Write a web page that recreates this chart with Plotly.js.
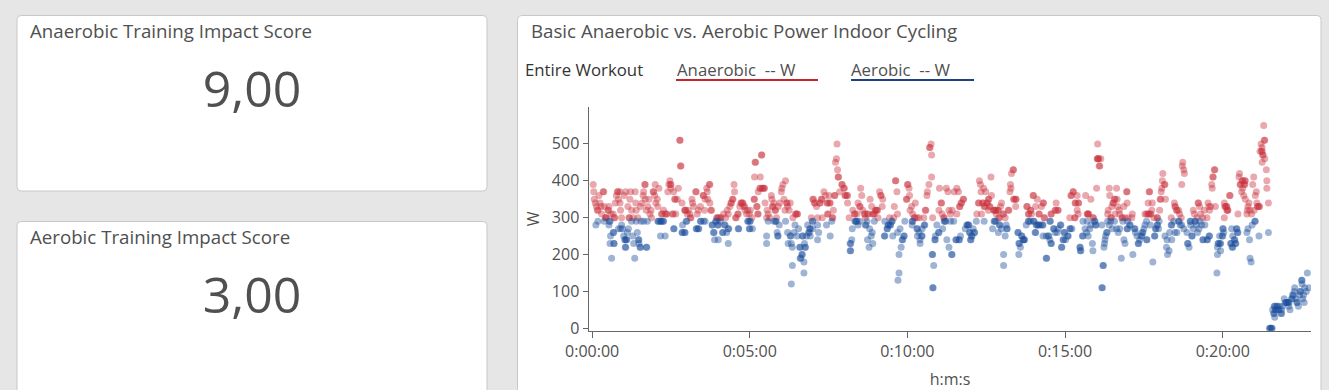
<!DOCTYPE html>
<html>
<head>
<meta charset="utf-8">
<script src="https://cdn.plot.ly/plotly-3.0.1.min.js"></script>
<style>
html,body{margin:0;padding:0;background:#e6e6e6;}
#chart{width:1329px;height:390px;}
</style>
</head>
<body>
<div id="chart"></div>
<script>
// ---- Data ----
const kpiTitles = ["Anaerobic Training Impact Score", "Aerobic Training Impact Score"];
const kpiValues = [9, 3];
const chartTitle = "Basic Anaerobic vs. Aerobic Power Indoor Cycling";
const filterLabel = "Entire Workout";
const seriesNames = ["Anaerobic\u00a0\u00a0-- W", "Aerobic\u00a0\u00a0-- W"];
const xTickSeconds = [0, 300, 600, 900, 1200];
const xTickLabels = ["0:00:00", "0:05:00", "0:10:00", "0:15:00", "0:20:00"];
const yTickValues = [0, 100, 200, 300, 400, 500];

// [seconds, watts]
const anaerobicSamples = [
[2,390],[3,370],[4,350],[6,340],[8,330],[10,320],[11,320],[13,360],[15,340],[17,330],[18,310],[21,370],[22,370],[23,330],[25,300],[26,300],[27,300],[30,320],[31,320],[32,330],[36,310],[40,310],[42,300],[43,300],[44,340],[46,360],[48,370],[49,370],[50,350],[53,370],[53,340],[54,320],[56,300],[61,360],[64,370],[68,330],[70,300],[71,300],[72,350],[73,370],[75,320],[78,300],[82,370],[83,340],[84,320],[87,300],[92,330],[95,340],[97,360],[98,370],[100,390],[101,390],[101,350],[103,320],[106,330],[108,350],[110,310],[112,320],[113,300],[116,370],[117,370],[119,360],[120,390],[121,340],[124,350],[125,330],[127,380],[132,310],[133,310],[136,320],[139,310],[141,310],[142,310],[144,370],[146,390],[148,400],[149,390],[150,390],[150,380],[153,310],[154,310],[155,370],[157,350],[158,350],[159,310],[162,350],[164,380],[167,510],[167,510],[168,440],[169,440],[171,340],[176,320],[177,320],[178,320],[181,310],[183,320],[186,310],[187,300],[188,300],[190,350],[191,340],[193,330],[197,370],[198,370],[200,310],[202,320],[206,330],[211,360],[212,360],[214,320],[215,350],
[218,380],[219,370],[220,350],[223,390],[224,390],[224,340],[226,320],[227,320],[237,300],[238,300],[240,300],[244,300],[245,300],[250,310],[254,300],[257,320],[259,310],[262,330],[264,340],[265,340],[267,350],[268,350],[270,390],[271,370],[273,300],[274,300],[277,310],[278,310],[281,330],[283,340],[284,340],[286,340],[287,340],[289,330],[290,330],[291,320],[294,310],[296,320],[299,310],[301,320],[304,300],[308,350],[309,350],[309,410],[310,450],[311,450],[313,330],[314,330],[315,310],[316,310],[316,370],[319,380],[320,380],[320,410],[322,470],[323,470],[324,380],[325,380],[327,380],[328,380],[329,340],[332,300],[333,320],[335,310],[338,300],[341,360],[342,350],[343,330],[344,330],[346,340],[348,320],[349,320],[351,300],[354,330],[357,340],[360,370],[361,380],[363,390],[365,350],[367,320],[368,400],[370,340],[371,340],[372,330],[375,320],[377,340],[382,300],[387,310],[388,310],[390,310],[391,310],[417,300],[420,350],[421,350],[423,340],[424,340],[427,330],[429,300],[433,340],[434,340],[436,350],[437,350],[438,300],[441,370],
[444,360],[447,340],[448,340],[448,310],[449,310],[451,360],[452,340],[453,340],[457,300],[458,300],[459,320],[461,360],[462,360],[463,450],[465,460],[466,500],[467,430],[468,410],[469,410],[471,370],[475,390],[476,390],[479,380],[480,380],[481,360],[482,360],[485,360],[486,360],[486,340],[489,300],[496,320],[499,310],[500,310],[504,310],[506,340],[509,330],[510,330],[511,380],[513,360],[515,320],[518,310],[519,310],[520,300],[524,310],[525,310],[529,350],[532,330],[534,310],[535,310],[537,310],[539,320],[540,320],[542,320],[543,320],[544,300],[547,370],[549,360],[550,360],[552,330],[553,350],[566,300],[574,300],[575,330],[577,400],[578,400],[580,370],[581,310],[598,350],[599,350],[600,390],[601,390],[603,380],[604,360],[605,320],[608,330],[610,310],[613,300],[614,300],[615,340],[618,300],[622,300],[631,300],[634,320],[635,320],[637,360],[638,370],[641,390],[642,490],[643,490],[645,500],[646,470],[646,410],[648,300],[660,320],[661,380],[664,340],[665,340],[666,310],[669,300],[670,300],
[674,380],[677,370],[679,320],[682,310],[685,320],[689,370],[694,380],[694,310],[697,370],[699,330],[700,330],[702,340],[703,340],[706,350],[707,350],[732,310],[735,340],[736,340],[737,400],[739,390],[740,370],[741,310],[743,340],[744,340],[745,380],[746,330],[747,330],[749,370],[751,340],[752,340],[754,350],[755,350],[754,320],[756,330],[757,330],[759,410],[760,360],[764,320],[765,320],[767,320],[768,320],[769,310],[772,320],[773,320],[774,300],[775,300],[777,330],[779,340],[782,310],[783,310],[786,300],[792,320],[793,320],[795,370],[796,390],[797,380],[798,420],[801,430],[802,430],[802,350],[803,350],[806,350],[807,350],[806,330],[827,330],[828,330],[830,310],[831,310],[834,320],[835,320],[836,310],[839,360],[840,360],[844,330],[847,350],[850,310],[851,310],[855,330],[858,340],[859,340],[860,300],[861,300],[873,310],[874,310],[881,320],[882,320],[883,340],[886,320],[887,320],
[909,300],[911,360],[912,360],[915,370],[916,370],[918,300],[919,300],[919,340],[920,340],[923,360],[923,320],[925,340],[926,340],[925,310],[939,360],[942,310],[943,310],[944,310],[945,310],[949,350],[953,300],[954,300],[960,380],[961,460],[962,460],[963,460],[964,460],[965,440],[966,440],[962,500],[968,460],[981,310],[982,320],[984,380],[985,360],[987,300],[988,300],[989,330],[991,340],[992,340],[994,350],[995,350],[995,310],[998,380],[999,350],[1000,330],[1003,320],[1004,310],[1008,300],[1009,300],[1012,330],[1014,300],[1017,370],[1018,370],[1018,340],[1020,300],[1027,300],[1028,310],[1052,310],[1055,310],[1058,310],[1059,310],[1058,340],[1060,370],[1061,370],[1062,310],[1063,310],[1065,320],[1066,340],[1069,300],[1075,300],[1076,300],[1080,320],[1081,350],[1082,350],[1083,370],[1084,380],[1085,400],[1086,420],[1089,390],[1090,390],[1091,350],[1102,300],[1108,340],[1109,330],[1110,330],[1112,320],[1113,320],[1116,320],[1118,310],[1121,300],[1122,390],[1123,440],[1124,450],[1126,430],[1127,420],
[1144,320],[1146,310],[1151,300],[1153,340],[1154,340],[1156,330],[1158,310],[1162,300],[1165,320],[1170,300],[1172,340],[1174,330],[1175,320],[1177,330],[1179,390],[1180,380],[1181,410],[1182,410],[1184,430],[1185,430],[1186,330],[1203,340],[1204,330],[1205,330],[1207,330],[1208,330],[1208,320],[1209,320],[1210,320],[1203,300],[1213,360],[1214,360],[1229,310],[1231,410],[1232,420],[1233,390],[1234,390],[1236,370],[1237,400],[1238,400],[1238,380],[1240,360],[1241,390],[1242,390],[1242,400],[1243,400],[1243,350],[1246,310],[1247,320],[1248,330],[1250,340],[1252,320],[1255,310],[1257,390],[1259,410],[1260,320],[1262,360],[1264,370],[1265,340],[1266,330],[1267,330],[1269,330],[1270,330],[1271,480],[1273,500],[1274,480],[1275,480],[1275,490],[1276,470],[1277,470],[1278,550],[1279,510],[1280,510],[1280,460],[1275,450],[1283,430],[1284,400],[1284,380],[1287,340]
];

const aerobicSamples = [
[7,280],[11,290],[23,290],[32,280],[33,290],[34,290],[35,250],[34,230],[37,190],[40,260],[41,260],[41,230],[42,230],[50,270],[54,270],[56,280],[58,270],[60,250],[62,240],[63,240],[63,220],[64,220],[65,240],[66,240],[67,260],[69,270],[75,290],[77,250],[79,230],[81,190],[84,290],[86,260],[88,240],[89,240],[89,230],[91,220],[92,220],[93,290],[98,290],[103,220],[104,220],[105,290],[125,290],[126,290],[129,290],[131,290],[132,290],[135,290],[136,290],[130,250],[139,250],[155,270],[156,270],[171,260],[172,260],[172,280],[176,260],[177,260],[179,290],[180,290],[198,270],[199,270],[202,270],[203,270],[206,290],[207,290],[212,290],
[215,290],[228,280],[229,280],[231,260],[232,260],[233,240],[235,290],[236,290],[239,280],[240,280],[240,240],[244,290],[248,260],[249,260],[252,280],[253,280],[256,260],[259,230],[259,270],[260,270],[278,270],[279,270],[296,290],[297,290],[300,290],[301,290],[299,270],[300,270],[305,270],[332,250],[332,230],[335,290],[346,290],[349,290],[350,290],[352,260],[353,250],[354,250],[356,280],[368,290],[372,260],[373,230],[377,250],[378,250],[379,230],[381,220],[381,170],[379,120],[384,260],[386,280],[390,250],[393,270],[395,220],[396,220],[396,190],[397,190],[399,200],[400,200],[400,250],[401,250],[403,180],[403,150],[404,230],[405,220],[406,220],[408,250],[410,280],[412,260],[413,260],[414,270],[415,270],[415,250],[419,290],[420,290],[420,270],[429,280],[431,260],[429,240],
[446,280],[453,250],[456,290],[491,230],[492,230],[491,210],[492,210],[494,240],[495,270],[500,290],[501,290],[503,290],[504,290],[506,280],[509,290],[520,280],[521,280],[523,290],[524,240],[527,220],[528,270],[531,250],[533,260],[534,230],[537,290],[556,250],[557,250],[557,290],[561,270],[562,270],[563,280],[564,280],[567,280],[568,280],[570,290],[571,290],[572,250],[581,260],[584,200],[584,150],[582,130],[586,270],[588,220],[590,240],[591,240],[593,250],[594,250],[595,290],[609,290],[610,290],[609,280],[618,270],[619,270],[619,250],[622,260],[624,240],[624,230],[627,250],[628,250],[628,270],[632,280],[633,280],[647,200],[648,200],[650,170],[648,110],[649,110],[652,240],[653,240],[653,250],[656,280],[659,260],[660,260],[667,270],[670,290],[671,290],
[673,290],[675,240],[679,220],[682,290],[684,200],[685,200],[688,290],[692,240],[693,240],[698,240],[699,240],[701,250],[710,270],[713,280],[714,280],[716,280],[717,280],[718,260],[719,260],[720,240],[721,240],[722,250],[723,250],[725,270],[727,260],[728,260],[731,290],[746,290],[762,270],[765,290],[766,290],[768,290],[773,260],[775,280],[776,280],[779,270],[783,200],[783,170],[786,250],[788,280],[789,270],[790,270],[810,260],[811,260],[812,230],[813,230],[815,220],[812,200],[817,250],[818,250],[820,240],[821,240],[822,240],[823,240],[826,280],[830,290],[831,290],[834,290],[840,290],[841,290],[843,260],[844,260],[845,280],[846,280],[849,280],[850,280],[853,280],[857,280],[858,280],[858,250],[864,190],[865,190],[864,250],[868,250],[869,250],[871,290],[872,290],[871,240],[873,230],[874,230],[878,270],[879,270],[881,260],[885,260],[887,270],[891,280],[892,280],[893,220],[894,220],[896,240],[897,240],[898,260],[899,260],
[901,240],[905,250],[906,250],[909,270],[910,270],[913,270],[928,220],[929,220],[929,210],[930,210],[933,250],[934,250],[934,290],[938,270],[941,260],[942,290],[944,250],[947,270],[949,280],[952,230],[953,210],[956,290],[957,290],[958,280],[959,280],[970,280],[974,220],[975,230],[976,240],[977,250],[979,260],[980,260],[972,170],[973,170],[970,110],[971,110],[981,290],[984,280],[987,290],[990,270],[994,290],[998,270],[1001,260],[1004,270],[1007,190],[1010,290],[1012,240],[1014,230],[1018,270],[1019,270],[1019,290],[1023,280],[1024,280],[1029,200],[1032,270],[1033,270],[1034,260],[1037,250],[1039,230],[1040,230],[1042,240],[1045,250],[1046,250],[1047,260],[1048,260],[1050,270],[1052,280],[1055,240],[1056,240],[1055,290],[1062,280],[1067,180],[1070,250],[1071,250],[1072,270],[1073,270],[1075,280],[1076,280],[1078,270],[1079,290],[1090,250],[1093,220],[1094,240],[1095,200],[1098,210],[1099,260],[1102,280],[1103,280],[1103,240],[1107,290],[1109,260],[1113,260],[1116,290],[1117,290],[1119,280],[1122,280],[1126,270],
[1132,260],[1133,230],[1134,230],[1136,220],[1138,290],[1139,290],[1139,280],[1141,250],[1142,250],[1144,270],[1147,290],[1148,290],[1150,280],[1152,260],[1155,270],[1157,290],[1160,280],[1162,240],[1163,240],[1166,280],[1170,240],[1171,240],[1174,250],[1175,250],[1189,150],[1190,220],[1190,200],[1191,230],[1192,230],[1194,250],[1195,230],[1196,230],[1196,210],[1199,250],[1200,250],[1200,270],[1201,270],[1202,260],[1215,230],[1216,230],[1217,270],[1218,220],[1219,220],[1219,250],[1222,240],[1223,240],[1224,230],[1225,230],[1226,270],[1227,270],[1228,260],[1229,260],[1246,260],[1248,270],[1251,240],[1252,190],[1254,180],[1256,280],[1261,290],[1262,290],[1269,250],[1287,260],
[1289,0],[1290,0],[1292,0],[1293,0],[1294,0],[1295,50],[1297,40],[1298,40],[1298,60],[1299,60],[1299,30],[1300,50],[1301,50],[1303,60],[1304,60],[1306,50],[1307,50],[1308,60],[1311,40],[1312,40],[1312,50],[1314,60],[1317,80],[1319,70],[1320,70],[1322,70],[1323,70],[1325,70],[1326,70],[1326,60],[1328,50],[1331,80],[1332,80],[1333,90],[1334,90],[1336,100],[1337,110],[1339,80],[1341,70],[1342,70],[1344,60],[1346,90],[1347,100],[1348,100],[1350,130],[1351,130],[1351,120],[1352,80],[1354,90],[1355,70],[1356,110],[1359,100],[1361,150],[1364,110]
];

// ---- Layout helpers (pixel -> paper) ----
const PW = 1329, PH = 390;
const fx = v => v / PW;
const fy = v => 1 - v / PH;
function roundRect(x0, y0, x1, y1, r) {
  const rx = r / PW, ry = r / PH;
  const a = fx(x0), b = fx(x1), t = fy(y0), u = fy(y1);
  return `M ${a+rx},${t} L ${b-rx},${t} Q ${b},${t} ${b},${t-ry} L ${b},${u+ry} Q ${b},${u} ${b-rx},${u} L ${a+rx},${u} Q ${a},${u} ${a},${u+ry} L ${a},${t-ry} Q ${a},${t} ${a+rx},${t} Z`;
}

const FONT = "Open Sans, Segoe UI, sans-serif";
const TXT = "#505050";
const RED = "#c9303b";
const BLUE = "#1b4c9b";

const traces = [
  {
    type: "scatter", mode: "markers", name: seriesNames[0],
    x: anaerobicSamples.map(p => p[0]), y: anaerobicSamples.map(p => p[1]),
    marker: {color: RED, size: 7, opacity: 0.42, line: {width: 0}},
    hoverinfo: "x+y", showlegend: false
  },
  {
    type: "scatter", mode: "markers", name: seriesNames[1],
    x: aerobicSamples.map(p => p[0]), y: aerobicSamples.map(p => p[1]),
    marker: {color: BLUE, size: 7, opacity: 0.42, line: {width: 0}},
    hoverinfo: "x+y", showlegend: false
  },
  {
    type: "indicator", mode: "number", value: kpiValues[0],
    number: {valueformat: ".2f", font: {family: FONT, size: 50, color: TXT}},
    domain: {x: [fx(17), fx(487)], y: [fy(143), fy(33)]}
  },
  {
    type: "indicator", mode: "number", value: kpiValues[1],
    number: {valueformat: ".2f", font: {family: FONT, size: 50, color: TXT}},
    domain: {x: [fx(17), fx(487)], y: [fy(348.5), fy(238.5)]}
  }
];

const layout = {
  width: PW, height: PH,
  margin: {l: 0, r: 0, t: 0, b: 0, pad: 0},
  paper_bgcolor: "#e6e6e6",
  plot_bgcolor: "#ffffff",
  separators: ",.",
  font: {family: FONT, color: TXT},
  showlegend: false,
  xaxis: {
    domain: [fx(589), fx(1311)],
    range: [-6, 1368],
    tickmode: "array", tickvals: xTickSeconds, ticktext: xTickLabels,
    ticks: "outside", ticklen: 6, tickwidth: 1, tickcolor: "#666",
    showline: true, linecolor: "#666", linewidth: 1.5,
    showgrid: false, zeroline: false,
    tickfont: {family: FONT, size: 16, color: TXT},
    title: {text: "h:m:s", font: {family: FONT, size: 16, color: TXT}, standoff: 13},
    automargin: false, fixedrange: true
  },
  yaxis: {
    domain: [fy(330.7), fy(107)],
    range: [-6.5, 600],
    tickmode: "array", tickvals: yTickValues,
    ticks: "outside", ticklen: 5, tickwidth: 1, tickcolor: "#666",
    showline: true, linecolor: "#666", linewidth: 1.5,
    showgrid: false, zeroline: false,
    tickfont: {family: FONT, size: 16, color: TXT},
    title: {text: "W", font: {family: FONT, size: 16, color: TXT}, standoff: 8},
    automargin: false, fixedrange: true
  },
  shapes: [
    {type: "path", xref: "paper", yref: "paper", path: roundRect(17, 15.5, 487, 191, 4), fillcolor: "#ffffff", line: {color: "#c8c8c8", width: 1}, layer: "below"},
    {type: "path", xref: "paper", yref: "paper", path: roundRect(17, 221.5, 487, 420, 4), fillcolor: "#ffffff", line: {color: "#c8c8c8", width: 1}, layer: "below"},
    {type: "path", xref: "paper", yref: "paper", path: roundRect(517.5, 15.5, 1321, 420, 4), fillcolor: "#ffffff", line: {color: "#c8c8c8", width: 1}, layer: "below"},
    {type: "line", xref: "paper", yref: "paper", x0: fx(676), x1: fx(818), y0: fy(80), y1: fy(80), line: {color: "#c1272d", width: 2}},
    {type: "line", xref: "paper", yref: "paper", x0: fx(851), x1: fx(974), y0: fy(80), y1: fy(80), line: {color: "#1f3f8a", width: 2}}
  ],
  annotations: [
    {xref: "paper", yref: "paper", x: fx(28), y: fy(31), xanchor: "left", yanchor: "middle", showarrow: false, text: kpiTitles[0], font: {family: FONT, size: 18.7, color: TXT}},
    {xref: "paper", yref: "paper", x: fx(28), y: fy(237), xanchor: "left", yanchor: "middle", showarrow: false, text: kpiTitles[1], font: {family: FONT, size: 18.7, color: TXT}},
    {xref: "paper", yref: "paper", x: fx(529), y: fy(31), xanchor: "left", yanchor: "middle", showarrow: false, text: chartTitle, font: {family: FONT, size: 18.7, color: TXT}},
    {xref: "paper", yref: "paper", x: fx(523), y: fy(69), xanchor: "left", yanchor: "middle", showarrow: false, text: filterLabel, font: {family: FONT, size: 16.8, color: "#333333"}},
    {xref: "paper", yref: "paper", x: fx(675), y: fy(69), xanchor: "left", yanchor: "middle", showarrow: false, text: seriesNames[0], font: {family: FONT, size: 16.8, color: TXT}},
    {xref: "paper", yref: "paper", x: fx(849), y: fy(69), xanchor: "left", yanchor: "middle", showarrow: false, text: seriesNames[1], font: {family: FONT, size: 16.8, color: TXT}}
  ]
};

Plotly.newPlot("chart", traces, layout, {displayModeBar: false, staticPlot: true});
</script>
</body>
</html>
